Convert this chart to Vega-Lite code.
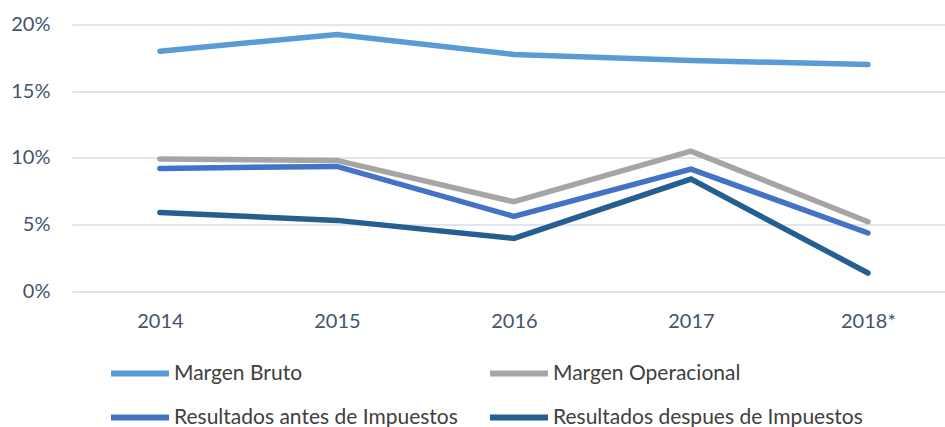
{
  "$schema": "https://vega.github.io/schema/vega-lite/v6.json",
  "width": 873,
  "height": 266.5,
  "autosize": {"type": "none"},
  "padding": {"left": 72, "top": 24.5, "right": 0, "bottom": 136},
  "background": "white",
  "config": {
    "view": {"stroke": null},
    "font": "Lato",
    "axis": {"labelFont": "Lato", "labelColor": "#44546A", "labelFontSize": 20},
    "legend": {"labelFont": "Lato", "labelColor": "#404040", "labelFontSize": 21}
  },
  "data": {
    "values": [
      {"year": "2014", "serie": "Margen Bruto", "value": 0.180},
      {"year": "2015", "serie": "Margen Bruto", "value": 0.1925},
      {"year": "2016", "serie": "Margen Bruto", "value": 0.1775},
      {"year": "2017", "serie": "Margen Bruto", "value": 0.173},
      {"year": "2018*", "serie": "Margen Bruto", "value": 0.170},
      {"year": "2014", "serie": "Margen Operacional", "value": 0.099},
      {"year": "2015", "serie": "Margen Operacional", "value": 0.098},
      {"year": "2016", "serie": "Margen Operacional", "value": 0.067},
      {"year": "2017", "serie": "Margen Operacional", "value": 0.105},
      {"year": "2018*", "serie": "Margen Operacional", "value": 0.052},
      {"year": "2014", "serie": "Resultados antes de Impuestos", "value": 0.092},
      {"year": "2015", "serie": "Resultados antes de Impuestos", "value": 0.0935},
      {"year": "2016", "serie": "Resultados antes de Impuestos", "value": 0.056},
      {"year": "2017", "serie": "Resultados antes de Impuestos", "value": 0.0915},
      {"year": "2018*", "serie": "Resultados antes de Impuestos", "value": 0.0435},
      {"year": "2014", "serie": "Resultados despues de Impuestos", "value": 0.059},
      {"year": "2015", "serie": "Resultados despues de Impuestos", "value": 0.053},
      {"year": "2016", "serie": "Resultados despues de Impuestos", "value": 0.0395},
      {"year": "2017", "serie": "Resultados despues de Impuestos", "value": 0.084},
      {"year": "2018*", "serie": "Resultados despues de Impuestos", "value": 0.0135}
    ]
  },
  "mark": {"type": "line", "strokeWidth": 5.5, "strokeCap": "round", "strokeJoin": "miter"},
  "encoding": {
    "x": {
      "field": "year", "type": "ordinal",
      "scale": {"type": "point", "padding": 0.466, "align": 0.533},
      "axis": {"title": null, "labelAngle": 0, "domain": false, "ticks": false, "grid": false, "labelPadding": 20}
    },
    "y": {
      "field": "value", "type": "quantitative",
      "scale": {"domain": [0, 0.2], "nice": false},
      "axis": {"title": null, "format": ".0%", "values": [0, 0.05, 0.1, 0.15, 0.2], "labelOverlap": false, "domain": false, "ticks": false, "labelPadding": 22, "gridColor": "#D9DEE6", "gridWidth": 1.5}
    },
    "color": {
      "field": "serie", "type": "nominal",
      "scale": {
        "domain": ["Margen Bruto", "Margen Operacional", "Resultados antes de Impuestos", "Resultados despues de Impuestos"],
        "range": ["#5B9BD5", "#A5A5A5", "#4472C4", "#255E91"]
      },
      "legend": {
        "title": null, "orient": "none", "legendX": 36, "legendY": 317,
        "direction": "horizontal", "columns": 2,
        "symbolType": "stroke", "symbolSize": 3364, "symbolStrokeWidth": 6,
        "labelOffset": 2, "columnPadding": 20, "rowPadding": -19, "labelLimit": 400
      }
    }
  }
}
